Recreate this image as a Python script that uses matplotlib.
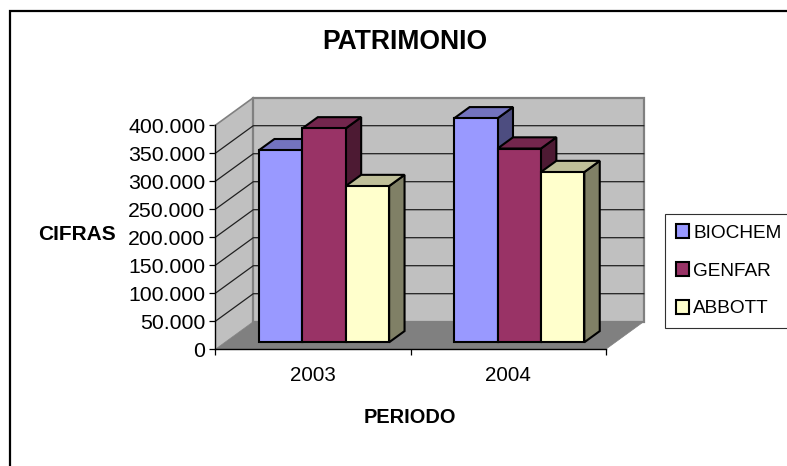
import matplotlib
matplotlib.use("Agg")
import matplotlib.pyplot as plt
from matplotlib.patches import Patch
from matplotlib.lines import Line2D
from matplotlib.colors import to_rgb

plt.rcParams['font.family'] = ['Liberation Sans', 'DejaVu Sans']

categories = ['2003', '2004']
series_names = ['BIOCHEM', 'GENFAR', 'ABBOTT']
biochem = [343000, 400000]
genfar = [382000, 346000]
abbott = [279000, 304000]
series_values = [biochem, genfar, abbott]
series_colors = ['#9999FF', '#993366', '#FFFFCC']
y_ticks = [0, 50000, 100000, 150000, 200000, 250000, 300000, 350000, 400000]
y_labels = ['0', '50.000', '100.000', '150.000', '200.000', '250.000', '300.000', '350.000', '400.000']

W, H = 787, 466
L, R, B, T = 215.3, 605.7, 349.3, 125.3   # front plane in pixels
fig = plt.figure(figsize=(W / 100, H / 100), dpi=100, facecolor='white')
ax = fig.add_axes([L / W, 1 - B / H, (R - L) / W, (B - T) / H])
ax.set_xlim(-0.5, 1.5)
ax.set_ylim(0, 400000)
ax.patch.set_visible(False)

# depth projection: fraction of depth -> shift in data units
DX = 38.0 / ((R - L) / 2)
DY = 27.6 / (B - T) * 400000


def proj(x, y, d):
    return x + d * DX, y + d * DY


def face(pts, **kw):
    xs, ys = zip(*[proj(*p) for p in pts])
    ax.fill(xs, ys, clip_on=False, **kw)


x0, x1 = ax.get_xlim()
ytop = y_ticks[-1]
# walls and floor
face([(x0, 0, 0), (x0, 0, 1), (x0, ytop, 1), (x0, ytop, 0)], fc='#C0C0C0', ec='#808080', lw=0, zorder=1)
face([(x0, 0, 1), (x1, 0, 1), (x1, ytop, 1), (x0, ytop, 1)], fc='#C0C0C0', ec='#808080', lw=1.6, zorder=1)
# gridlines
for v in y_ticks[1:-1]:
    xs, ys = zip(proj(x0, v, 0), proj(x0, v, 1), proj(x1, v, 1))
    ax.plot(xs, ys, color='#202020', lw=0.9, clip_on=False, zorder=2)
xs, ys = zip(proj(x0, ytop, 0), proj(x0, ytop, 1))
ax.plot(xs, ys, color='#808080', lw=1.2, clip_on=False, zorder=2)
face([(x0, 0, 0), (x1, 0, 0), (x1, 0, 1), (x0, 0, 1)], fc='#808080', ec='#808080', lw=0.5, zorder=3)

# bars
GAP = 1.5
bw = 1 / (len(series_names) + GAP)
D0, D1 = 0.254, 0.66
SHIFT = 1.5 / ((R - L) / 2)
z = 4
for c in range(len(categories)):
    for s, vals in enumerate(series_values):
        v = vals[c]
        left = c - 1.5 * bw + s * bw + SHIFT
        rgb = to_rgb(series_colors[s])
        edge = dict(ec='black', lw=1.5, joinstyle='miter')
        top = tuple(k * 0.75 for k in rgb)
        side = tuple(k * 0.5 for k in rgb)
        right = left + bw
        face([(right, 0, D0), (right, 0, D1), (right, v, D1), (right, v, D0)], fc=side, zorder=z, **edge)
        face([(left, v, D0), (right, v, D0), (right, v, D1), (left, v, D1)], fc=top, zorder=z, **edge)
        sx, sy = proj(left, 0, D0)
        ax.bar(sx, v, width=bw, bottom=sy, align='edge', color=series_colors[s], edgecolor='black',
               linewidth=1.5, clip_on=False, zorder=z + 0.5)
        z += 1

# axes
for name in ('top', 'right'):
    ax.spines[name].set_visible(False)
for name in ('left', 'bottom'):
    ax.spines[name].set_linewidth(1.0)
    ax.spines[name].set_zorder(30)
ax.set_yticks(y_ticks, y_labels)
ax.tick_params(axis='y', length=4.3, width=0.9, pad=3, labelsize=15.3)
ax.set_xticks([x0, 0.5, x1], ['', '', ''])
ax.set_xticks(range(len(categories)), categories, minor=True)
ax.tick_params(axis='x', which='major', length=4.3, width=0.9)
ax.tick_params(axis='x', which='minor', length=0, pad=12, labelsize=14.8)

w_ax, h_ax = R - L, B - T
ax.set_title('PATRIMONIO', fontsize=19.1, fontweight='bold', x=(405 - L) / w_ax, y=(B - 42) / h_ax,
             va='center', ha='center', pad=0)
ax.set_ylabel('CIFRAS', fontsize=15, fontweight='bold', rotation=0, ha='center', va='center')
ax.yaxis.set_label_coords((77 - L) / w_ax, (B - 235) / h_ax)
ax.set_xlabel('PERIODO', fontsize=14.4, fontweight='bold', ha='center', va='center')
ax.xaxis.set_label_coords((409.5 - L) / w_ax, (B - 417.7) / h_ax)

# legend
handles = [Patch(fc=c, ec='black', lw=1.5) for c in series_colors]
leg = fig.legend(handles, series_names, loc='upper left', bbox_to_anchor=(665.3 / W, 1 - 214 / H),
                 fontsize=13.7, frameon=True, fancybox=False, edgecolor='#303030', framealpha=1,
                 handlelength=0.72, handleheight=0.75, handletextpad=0.2, labelspacing=1.05,
                 borderpad=0.55, borderaxespad=0)
leg.get_frame().set_linewidth(0.8)

# outer chart border (open at right and bottom, as cropped)
fig.add_artist(Line2D([9.5 / W, 9.5 / W, 1], [0, 1 - 10.5 / H, 1 - 10.5 / H], transform=fig.transFigure,
                      color='black', lw=1.6, solid_joinstyle='miter'))

fig.savefig('out.png', dpi=100)
